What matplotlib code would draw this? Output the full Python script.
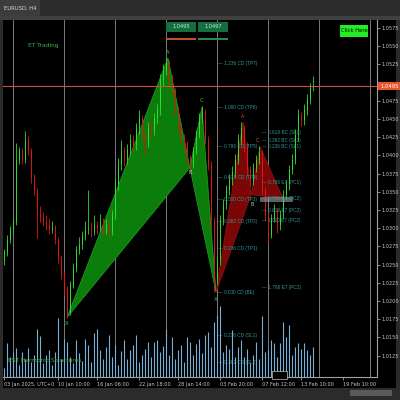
import matplotlib
matplotlib.use('Agg')
import matplotlib.pyplot as plt
import matplotlib.transforms as mtransforms
from matplotlib.patches import Rectangle, Polygon

# H4 candles (opens, closes, highs, lows)
opens = [1.0255, 1.0267, 1.0284, 1.0298, 1.0309, 1.0394, 1.0407, 1.0394, 1.0421, 1.0407,
         1.0369, 1.0352, 1.0318, 1.0314, 1.0309, 1.0304, 1.0298, 1.0300, 1.0284, 1.0259,
         1.0236, 1.0215, 1.0185, 1.0222, 1.0245, 1.0270, 1.0277, 1.0289, 1.0298, 1.0300,
         1.0295, 1.0304, 1.0300, 1.0309, 1.0298, 1.0304, 1.0295, 1.0318, 1.0359, 1.0387,
         1.0407, 1.0394, 1.0407, 1.0421, 1.0414, 1.0438, 1.0451, 1.0428, 1.0418, 1.0438,
         1.0435, 1.0451, 1.0462, 1.0504, 1.0517, 1.0528, 1.0504, 1.0487, 1.0462, 1.0438,
         1.0424, 1.0414, 1.0394, 1.0387, 1.0407, 1.0428, 1.0451, 1.0460, 1.0421, 1.0387,
         1.0311, 1.0229, 1.0256, 1.0311, 1.0332, 1.0352, 1.0366, 1.0377, 1.0394, 1.0421,
         1.0438, 1.0414, 1.0380, 1.0366, 1.0383, 1.0394, 1.0405, 1.0352, 1.0318, 1.0291,
         1.0314, 1.0325, 1.0304, 1.0318, 1.0346, 1.0359, 1.0380, 1.0394, 1.0428, 1.0456,
         1.0449, 1.0462, 1.0476, 1.0493]
closes = [1.0267, 1.0284, 1.0298, 1.0309, 1.0394, 1.0407, 1.0394, 1.0421, 1.0407, 1.0369,
          1.0352, 1.0318, 1.0314, 1.0309, 1.0304, 1.0298, 1.0300, 1.0284, 1.0259, 1.0236,
          1.0215, 1.0185, 1.0222, 1.0245, 1.0270, 1.0277, 1.0289, 1.0298, 1.0300, 1.0295,
          1.0304, 1.0300, 1.0309, 1.0298, 1.0304, 1.0295, 1.0318, 1.0359, 1.0387, 1.0407,
          1.0394, 1.0407, 1.0421, 1.0414, 1.0438, 1.0451, 1.0428, 1.0418, 1.0438, 1.0435,
          1.0451, 1.0462, 1.0504, 1.0517, 1.0528, 1.0504, 1.0487, 1.0462, 1.0438, 1.0424,
          1.0414, 1.0394, 1.0387, 1.0407, 1.0428, 1.0451, 1.0460, 1.0421, 1.0387, 1.0311,
          1.0229, 1.0256, 1.0311, 1.0332, 1.0352, 1.0366, 1.0377, 1.0394, 1.0421, 1.0438,
          1.0414, 1.0380, 1.0366, 1.0383, 1.0394, 1.0405, 1.0352, 1.0318, 1.0291, 1.0314,
          1.0325, 1.0304, 1.0318, 1.0346, 1.0359, 1.0380, 1.0394, 1.0428, 1.0456, 1.0449,
          1.0462, 1.0476, 1.0493, 1.0495]
highs = [1.0272, 1.0290, 1.0303, 1.0314, 1.0417, 1.0412, 1.0410, 1.0434, 1.0426, 1.0410,
         1.0374, 1.0355, 1.0330, 1.0322, 1.0318, 1.0312, 1.0310, 1.0305, 1.0288, 1.0263,
         1.0240, 1.0220, 1.0228, 1.0252, 1.0276, 1.0288, 1.0296, 1.0310, 1.0352, 1.0308,
         1.0318, 1.0310, 1.0320, 1.0314, 1.0312, 1.0308, 1.0325, 1.0368, 1.0396, 1.0421,
         1.0412, 1.0416, 1.0430, 1.0428, 1.0445, 1.0462, 1.0455, 1.0433, 1.0446, 1.0448,
         1.0458, 1.0470, 1.0512, 1.0525, 1.0534, 1.0531, 1.0510, 1.0492, 1.0468, 1.0445,
         1.0430, 1.0420, 1.0400, 1.0412, 1.0435, 1.0458, 1.0468, 1.0464, 1.0426, 1.0392,
         1.0316, 1.0262, 1.0318, 1.0340, 1.0360, 1.0374, 1.0385, 1.0402, 1.0430, 1.0446,
         1.0442, 1.0418, 1.0385, 1.0390, 1.0400, 1.0413, 1.0408, 1.0356, 1.0322, 1.0320,
         1.0333, 1.0328, 1.0325, 1.0352, 1.0366, 1.0387, 1.0402, 1.0436, 1.0464, 1.0460,
         1.0470, 1.0484, 1.0500, 1.0509]
lows = [1.0250, 1.0262, 1.0280, 1.0292, 1.0305, 1.0388, 1.0388, 1.0390, 1.0400, 1.0362,
        1.0346, 1.0286, 1.0308, 1.0303, 1.0298, 1.0292, 1.0293, 1.0278, 1.0252, 1.0230,
        1.0208, 1.0177, 1.0181, 1.0218, 1.0240, 1.0264, 1.0272, 1.0284, 1.0292, 1.0288,
        1.0290, 1.0292, 1.0296, 1.0290, 1.0292, 1.0288, 1.0290, 1.0312, 1.0352, 1.0380,
        1.0385, 1.0388, 1.0400, 1.0405, 1.0408, 1.0430, 1.0420, 1.0400, 1.0412, 1.0425,
        1.0428, 1.0445, 1.0455, 1.0495, 1.0510, 1.0497, 1.0480, 1.0455, 1.0430, 1.0416,
        1.0405, 1.0388, 1.0380, 1.0383, 1.0402, 1.0424, 1.0445, 1.0415, 1.0380, 1.0300,
        1.0212, 1.0222, 1.0250, 1.0305, 1.0326, 1.0345, 1.0360, 1.0370, 1.0388, 1.0414,
        1.0405, 1.0372, 1.0358, 1.0360, 1.0377, 1.0388, 1.0345, 1.0310, 1.0280, 1.0286,
        1.0308, 1.0293, 1.0298, 1.0312, 1.0340, 1.0352, 1.0374, 1.0388, 1.0420, 1.0440,
        1.0442, 1.0455, 1.0470, 1.0488]
# tick volume (thousands)
volumes = [2.7, 10.2, 6.0, 7.5, 8.7, 3.6, 7.5, 5.4, 8.7, 4.5,
           6.6, 14.4, 12.3, 4.2, 6.6, 8.1, 3.6, 7.5, 17.7, 5.4,
           11.4, 10.5, 6.0, 4.2, 11.1, 7.2, 4.8, 11.4, 9.6, 4.5,
           13.2, 14.4, 8.1, 5.4, 9.0, 12.6, 6.0, 9.6, 3.6, 7.8,
           11.1, 5.4, 8.1, 9.6, 12.6, 4.5, 6.6, 8.4, 10.5, 6.0,
           10.5, 11.1, 7.5, 9.3, 14.4, 6.6, 12.0, 5.4, 8.1, 9.6,
           4.5, 12.0, 10.5, 6.6, 9.9, 11.4, 7.2, 12.6, 13.5, 9.0,
           16.5, 18.6, 21.3, 7.5, 9.6, 8.4, 14.1, 6.0, 9.0, 11.1,
           6.0, 8.4, 4.2, 6.6, 10.5, 5.4, 18.3, 7.5, 8.1, 11.1,
           10.2, 6.0, 10.2, 16.5, 12.0, 15.6, 6.6, 9.0, 10.2, 8.4,
           10.2, 8.1, 6.6, 9.0]

time_ticks = [0, 18, 31, 45, 58, 72, 86, 99, 113]
time_labels = ['03 Jan 2025, UTC+0', '10 Jan 10:00', '16 Jan 06:00', '22 Jan 18:00',
               '28 Jan 14:00', '03 Feb 20:00', '07 Feb 12:00', '13 Feb 10:00', '19 Feb 10:00']
price_ticks = [1.0125, 1.0150, 1.0175, 1.0200, 1.0225, 1.0250, 1.0275, 1.0300, 1.0325,
               1.0350, 1.0375, 1.0400, 1.0425, 1.0450, 1.0475, 1.0500, 1.0525, 1.0550, 1.0575]

# harmonic pattern points (bar index, price)
green_names = ['X', 'A', 'B', 'C', 'D']
green_x = [20.8, 54.5, 61.8, 65.8, 70.5]
green_y = [1.0177, 1.0534, 1.0383, 1.0466, 1.0212]
red_names = ['X', 'A', 'B', 'C', 'D']
red_x = [70.5, 79.5, 82.2, 85.2, 92.8]
red_y = [1.0212, 1.0446, 1.0346, 1.0412, 1.0341]

cd_ratios = [1.236, 1.000, 0.786, 0.618, 0.500, 0.382, 0.236, 0.000, -0.236, -0.382]
cd_names = ['1.236 CD (TP7)', '1.000 CD (TP6)', '0.786 CD (TP5)', '0.618 CD (TP4)',
            '0.500 CD (TP3)', '0.382 CD (TP2)', '0.236 CD (TP1)', '0.000 CD (BE)',
            '0.236 CD (SL1)', '0.382 CD (SL2)']
e7_names = ['0.618 BC (SL3)', '0.382 BC (SL2)', '0.236 BC (SL1)', '0.786 E7 (PC1)',
            '0.786 E7 (PC2)', '0.618 E7 (PC2)', '1.000 E7 (PC2)', '1.786 E7 (PC2)']
e7_prices = [1.0431, 1.0421, 1.0412, 1.0363, 1.0341, 1.0324, 1.0310, 1.0218]

last_price = closes[-1]

fig = plt.figure(figsize=(4, 4), dpi=100)
fig.patch.set_facecolor('#2b2b2b')


def px(x, y, w, h, color, z=10, **kw):
    # rectangle in screen pixels (top-left origin)
    fig.add_artist(Rectangle((x / 400, 1 - (y + h) / 400), w / 400, h / 400,
                             transform=fig.transFigure, facecolor=color, zorder=z, **kw))


# window chrome (behind the axes)
px(0, 0, 40, 16, '#3c3c3c', z=-5, edgecolor='none')
px(0, 16, 400, 4, '#404040', z=-5, edgecolor='none')
px(3, 20, 393, 368, 'black', z=-5, edgecolor='none')
px(350, 390, 42, 6, '#5a5a5a', z=-5, edgecolor='none')
fig.text(20 / 400, 1 - 8 / 400, 'EURUSD, H4', color='#d8d8d8', fontsize=3.8,
         ha='center', va='center')

ax = fig.add_axes([3 / 400, 23 / 400, 374 / 400, 357 / 400])
ax.set_facecolor('black')
ax.set_xlim(-0.5, 124.17)
ax.set_ylim(1.00956, 1.0586)

# vertical grid
for g in range(8):
    ax.axvline(2.83 + 17 * g, color='#7a7a7a', lw=0.7, zorder=0)

# harmonic pattern fills
gp = list(zip(green_x, green_y))
rp = list(zip(red_x, red_y))
for pts, fc, ec in [(gp, '#0a7d0a', '#28a028'), (rp, '#7a0606', '#a01010')]:
    ax.add_patch(Polygon([pts[0], pts[1], pts[2]], closed=True, facecolor=fc,
                         edgecolor=ec, lw=0.5, zorder=1))
    ax.add_patch(Polygon([pts[2], pts[3], pts[4]], closed=True, facecolor=fc,
                         edgecolor=ec, lw=0.5, zorder=1))

# candles
idx = range(len(closes))
up_col, dn_col = '#2fdc2f', '#e01414'
cols = [up_col if c >= o else dn_col for o, c in zip(opens, closes)]
ax.vlines(idx, lows, highs, colors=cols, lw=0.6, zorder=3)
ax.bar(idx, [max(abs(c - o), 0.00008) for o, c in zip(opens, closes)],
       bottom=[min(o, c) for o, c in zip(opens, closes)], width=0.55,
       color=cols, zorder=3)

# point labels
g_off = [-0.0008, 0.0008, -0.0006, 0.0009, -0.0010]
for n, x, y, o in zip(green_names, green_x, green_y, g_off):
    if n == 'D':
        n = 'X'
    c = '#c0c0c0' if n == 'B' else '#3cc43c'
    ax.text(x, y + o, n, color=c, fontsize=3.8, ha='center', va='center', zorder=5)
r_off = [0, 0.0007, -0.0014, 0.0009, 0]
r_dx = [0, 0, 0.3, -0.9, 0]
for n, x, y, o, dx in zip(red_names[1:4], red_x[1:4], red_y[1:4], r_off[1:4], r_dx[1:4]):
    c = '#c0c0c0' if n == 'B' else '#e04848'
    ax.text(x + dx, y + o, n, color=c, fontsize=3.5, ha='center', va='center', zorder=5)

# fib labels
fib_col = '#379494'
fib_font = ['Liberation Sans', 'DejaVu Sans']
c_price, d_price = green_y[3], green_y[4]
for r, name in zip(cd_ratios, cd_names):
    lvl = d_price + r * (c_price - d_price)
    ax.text(71.2, lvl, '\u2014 ' + name, color=fib_col, fontsize=3.4, va='center',
            family=fib_font, zorder=6)
for p, name in zip(e7_prices, e7_names):
    ax.text(86.0, p, '\u2014 ' + name, color=fib_col, fontsize=3.4, va='center',
            family=fib_font, zorder=6)
ax.add_patch(Rectangle((85.2, 1.0336), 11.0, 0.0007, facecolor='#9aa0a8', alpha=0.6,
                       edgecolor='none', zorder=5))

# volumes on their own scale, overlaid at the bottom
vax = ax.twinx()
vax.set_ylim(0, 107.1)
vax.vlines(list(idx), 0, volumes, color='#78b0d8', lw=0.8)
vax.axis('off')

# bid line and price box
ax.axhline(last_price, color='#c8553d', lw=0.8, zorder=4)
trans = mtransforms.blended_transform_factory(ax.transAxes, ax.transData)
vax.text(1.008, last_price, f'{last_price:.4f}', transform=trans, color='white',
         fontsize=3.8, va='center', ha='left', zorder=7, clip_on=False,
         bbox=dict(boxstyle='square,pad=0.3', fc='#e8552a', ec='none'))

# axes styling
for s in ['top', 'left']:
    ax.spines[s].set_visible(False)
ax.spines['right'].set_color('#a0a0a0')
ax.spines['bottom'].set_color('#a0a0a0')
ax.spines['right'].set_linewidth(0.8)
ax.spines['bottom'].set_linewidth(0.8)
ax.yaxis.tick_right()
ax.set_yticks(price_ticks)
# the tick hidden behind the price box gets no label
ax.set_yticklabels(['' if abs(p - last_price) < 0.001 else f'{p:.4f}' for p in price_ticks])
ax.set_xticks(time_ticks)
ax.set_xticklabels(time_labels, ha='left')
ax.tick_params(axis='both', colors='#a0a0a0', labelcolor='#c8c8c8', labelsize=3.6,
               length=2, width=0.6, pad=1.5)

# overlays
fig.text(28 / 400, 1 - 46 / 400, 'ET Trading', color='#3cb043', fontsize=4.2, va='center')
fig.text(8 / 400, 1 - 361 / 400, 'EST Harmonic Structures', color='#3cb043', fontsize=4.2,
         va='center')
px(340, 25, 28, 12, '#22ee22', edgecolor='none')
fig.text(354 / 400, 1 - 31 / 400, 'Click Here', color='black', fontsize=3.8,
         ha='center', va='center', zorder=11)
px(166, 22, 30, 10, '#136f3f', edgecolor='none')
px(198, 22, 30, 10, '#136f3f', edgecolor='none')
fig.text(181 / 400, 1 - 27 / 400, f'{last_price:.4f}', color='#e0e0e0', fontsize=3.6,
         ha='center', va='center', zorder=11)
fig.text(213 / 400, 1 - 27 / 400, f'{last_price + 0.0002:.4f}', color='#e0e0e0',
         fontsize=3.6, ha='center', va='center', zorder=11)
px(166, 38, 30, 2, '#c0502a', edgecolor='none')
px(198, 38, 30, 2, '#2a8a4a', edgecolor='none')
px(272, 371, 15, 8, 'black', edgecolor='#c0c0c0', linewidth=0.5)

fig.savefig('out.png', dpi=100, facecolor=fig.get_facecolor())
